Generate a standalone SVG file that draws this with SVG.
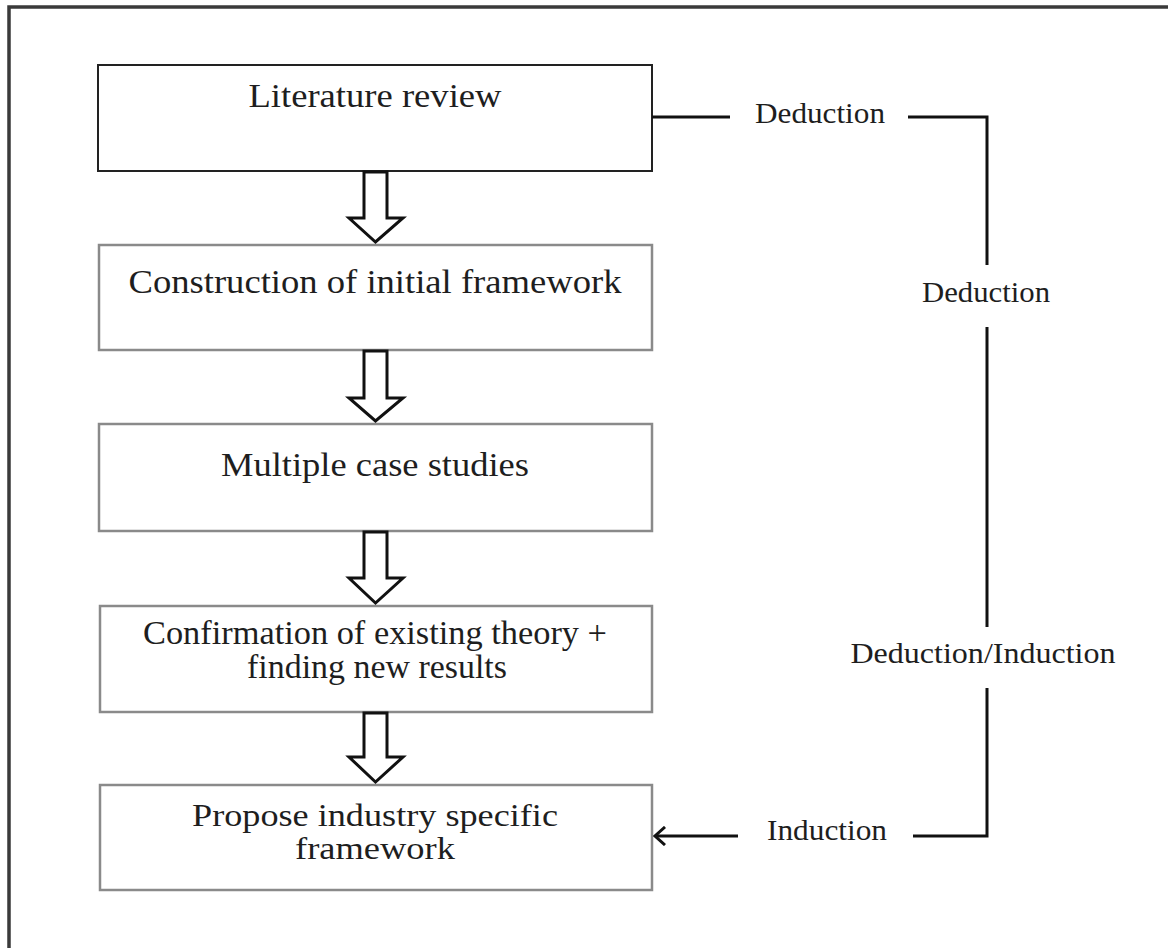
<svg xmlns="http://www.w3.org/2000/svg" width="1168" height="948" viewBox="0 0 1168 948">
  <style>
    .box { fill: #ffffff; stroke: #8a8a8a; stroke-width: 2.5; }
    .box.first { stroke: #222222; stroke-width: 2; }
    .label { font-family: "Liberation Serif", "Times New Roman", serif; font-size: 33px; fill: #1e1e1e; text-anchor: middle; }
    .label.tight { font-size: 31px; }
    .side { font-family: "Liberation Serif", "Times New Roman", serif; font-size: 30px; fill: #1e1e1e; text-anchor: middle; }
    .flow { fill: #ffffff; stroke: #111111; stroke-width: 3; stroke-linejoin: miter; }
    .link { fill: none; stroke: #111111; stroke-width: 3; }
  </style>
  <defs>
    <!-- open chevron head, drawn along the +x direction of the line -->
    <marker id="openHead" viewBox="0 0 14 20" refX="12" refY="10" markerWidth="14" markerHeight="20" markerUnits="userSpaceOnUse" orient="auto">
      <path d="M2,1 L12,10 L2,19" fill="none" stroke="#111111" stroke-width="3"/>
    </marker>
  </defs>

  <rect width="1168" height="948" fill="#ffffff"/>

  <!-- outer frame (top and left edges) -->
  <polyline points="9,948 9,7 1168,7" fill="none" stroke="#3a3a3a" stroke-width="3.5"/>

  <!-- steps -->
  <g id="literature-review">
    <rect class="box first" x="98" y="65" width="554" height="106"/>
    <text class="label" x="375" y="107" textLength="253" lengthAdjust="spacingAndGlyphs">Literature review</text>
  </g>
  <g id="initial-framework">
    <rect class="box" x="99" y="245" width="553" height="105"/>
    <text class="label" x="375" y="293" textLength="493" lengthAdjust="spacingAndGlyphs">Construction of initial framework</text>
  </g>
  <g id="case-studies">
    <rect class="box" x="99" y="424" width="553" height="107"/>
    <text class="label" x="375" y="476" textLength="308" lengthAdjust="spacingAndGlyphs">Multiple case studies</text>
  </g>
  <g id="confirmation">
    <rect class="box" x="100" y="606" width="552" height="106"/>
    <text class="label" x="375" y="644" textLength="464" lengthAdjust="spacingAndGlyphs">Confirmation of existing theory +</text>
    <text class="label" x="377" y="678" textLength="260" lengthAdjust="spacingAndGlyphs">finding new results</text>
  </g>
  <g id="specific-framework">
    <rect class="box" x="100" y="785" width="552" height="105"/>
    <text class="label tight" x="375" y="826" textLength="366" lengthAdjust="spacingAndGlyphs">Propose industry specific</text>
    <text class="label tight" x="375" y="859" textLength="160" lengthAdjust="spacingAndGlyphs">framework</text>
  </g>

  <!-- connectors -->
  <g id="connectors">
    <!-- hollow block arrows between steps -->
    <path class="flow" d="M364,172 H387 V218 H403 L375.5,242 L349,218 H364 Z"/>
    <path class="flow" d="M364,351 H387 V398 H403 L375.5,421 L349,398 H364 Z"/>
    <path class="flow" d="M364,532 H387 V578 H403 L375.5,603 L349,578 H364 Z"/>
    <path class="flow" d="M364,713 H387 V757 H403 L375.5,782 L349,757 H364 Z"/>

    <!-- feedback loop on the right -->
    <line class="link" x1="652" y1="117" x2="730" y2="117"/>
    <polyline class="link" points="908,117 987,117 987,265"/>
    <line class="link" x1="987" y1="327" x2="987" y2="627"/>
    <polyline class="link" points="987,688 987,836 913,836"/>
    <line class="link" x1="738" y1="836" x2="655" y2="836" marker-end="url(#openHead)"/>

    <text class="side" x="820" y="123" textLength="130" lengthAdjust="spacingAndGlyphs">Deduction</text>
    <text class="side" x="986" y="302" textLength="128" lengthAdjust="spacingAndGlyphs">Deduction</text>
    <text class="side" x="983" y="663" textLength="265" lengthAdjust="spacingAndGlyphs">Deduction/Induction</text>
    <text class="side" x="827" y="840" textLength="120" lengthAdjust="spacingAndGlyphs">Induction</text>
  </g>
</svg>
